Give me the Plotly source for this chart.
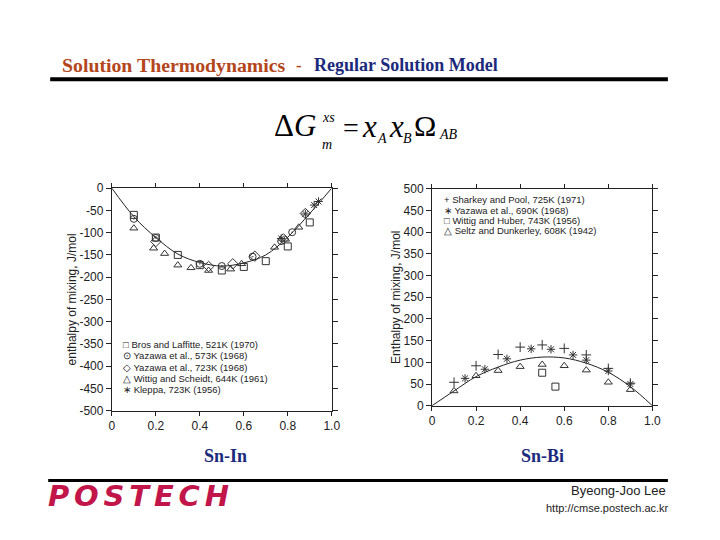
import plotly.graph_objects as go

W, H = 720, 540

# ---------------- data: Sn-In (left) ----------------
bros_x = [0.1, 0.2, 0.3, 0.4, 0.5, 0.6, 0.7, 0.8, 0.9]
bros_y = [-60, -111, -150, -173, -185, -177, -164, -131, -77]
yaz573_x = [0.1, 0.2, 0.4, 0.5, 0.64, 0.77, 0.82]
yaz573_y = [-69, -112, -170, -175, -154, -119, -99]
yaz723_x = [0.2, 0.44, 0.55, 0.65, 0.78, 0.88]
yaz723_y = [-120, -176, -170, -153, -114, -57]
witt_x = [0.1, 0.19, 0.24, 0.3, 0.36, 0.44, 0.54, 0.59, 0.74, 0.79, 0.85]
witt_y = [-90, -135, -147, -173, -179, -185, -182, -170, -133, -115, -88]
klep_x = [0.77, 0.88, 0.92, 0.94]
klep_y = [-113, -58, -38, -30]
snin_curve_x = [0, 0.1, 0.2, 0.3, 0.4, 0.5, 0.6, 0.7, 0.8, 0.9, 1.0]
snin_curve_y = [0, -64, -111, -148, -167, -175, -168, -150, -110, -57, 0]

# ---------------- data: Sn-Bi (right) ----------------
shar_x = [0.1, 0.2, 0.3, 0.4, 0.5, 0.6, 0.7, 0.8, 0.9]
shar_y = [54, 92, 118, 135, 140, 132, 117, 86, 52]
yazbi_x = [0.15, 0.24, 0.34, 0.45, 0.54, 0.64, 0.7, 0.8, 0.9]
yazbi_y = [63, 84, 108, 131, 130, 117, 105, 80, 50]
wittbi_x = [0.5, 0.56]
wittbi_y = [76, 44]
seltz_x = [0.1, 0.2, 0.3, 0.4, 0.5, 0.6, 0.7, 0.8, 0.9]
seltz_y = [34, 69, 81, 90, 95, 92, 82, 54, 37]
snbi_curve_x = [0, 0.1, 0.2, 0.3, 0.4, 0.5, 0.6, 0.7, 0.8, 0.9, 1.0]
snbi_curve_y = [0, 34, 67, 89, 105, 112, 110, 98, 77, 44, 0]

x_ticks = [0, 0.2, 0.4, 0.6, 0.8, 1.0]
x_ticktext = ["0", "0.2", "0.4", "0.6", "0.8", "1.0"]
left_yticks = list(range(0, -501, -50))
left_yticktext = [str(v) for v in left_yticks]
right_yticks = list(range(0, 501, 50))
right_yticktext = [str(v) for v in right_yticks]

left_legend = [
    ("\u25a1", "Bros and Laffitte, 521K (1970)"),
    ("\u2299", "Yazawa et al., 573K (1968)"),
    ("\u25c7", "Yazawa et al., 723K (1968)"),
    ("\u25b3", "Wittig and Scheidt, 644K (1961)"),
    ("\u2217", "Kleppa, 723K (1956)"),
]
right_legend = [
    ("+", "Sharkey and Pool, 725K (1971)"),
    ("\u2217", "Yazawa et al., 690K (1968)"),
    ("\u25a1", "Wittig and Huber, 743K (1956)"),
    ("\u25b3", "Seltz and Dunkerley, 608K (1942)"),
]

# layout helpers: reference pixel -> paper fraction (with viewer calibration)
AX, BX = 2.8, 0.9838
AY, BY = 5.5, 0.976


def px(x):
    return (x - AX) / (BX * W)


def py(y):
    return 1 - (y - AY) / (BY * H)


MK = "#333333"
fig = go.Figure()


def pts(x, y, sym, size, ax):
    fig.add_trace(go.Scatter(
        x=x, y=y, mode="markers", xaxis=ax[0], yaxis=ax[1], showlegend=False,
        marker=dict(symbol=sym, size=size, color=MK, line=dict(color=MK, width=1)),
        hoverinfo="skip"))


L = ("x", "y")
R = ("x2", "y2")
fig.add_trace(go.Scatter(x=snin_curve_x, y=snin_curve_y, mode="lines", line=dict(color="#222", width=1, shape="spline", smoothing=1.0), showlegend=False, hoverinfo="skip"))
pts(bros_x, bros_y, "square-open", 7, L)
pts(yaz573_x, yaz573_y, "circle-open-dot", 7, L)
pts(yaz723_x, yaz723_y, "diamond-open", 8, L)
pts(witt_x, witt_y, "triangle-up-open", 7, L)
pts(klep_x, klep_y, "asterisk-open", 7, L)

fig.add_trace(go.Scatter(x=snbi_curve_x, y=snbi_curve_y, mode="lines", xaxis="x2", yaxis="y2", line=dict(color="#222", width=1, shape="spline", smoothing=1.0), showlegend=False, hoverinfo="skip"))
pts(shar_x, shar_y, "cross-thin-open", 7, R)
pts(yazbi_x, yazbi_y, "asterisk-open", 7, R)
pts(wittbi_x, wittbi_y, "square-open", 7, R)
pts(seltz_x, seltz_y, "triangle-up-open", 7, R)

axis_font = dict(family="Liberation Sans, Arial", size=12, color="#222")
common = dict(showline=True, linecolor="#222", linewidth=1, mirror="ticks",
              ticks="outside", tickcolor="#222", tickwidth=1,
              showgrid=False, zeroline=False, tickfont=axis_font)

fig.update_layout(
    width=W, height=H, margin=dict(l=0, r=0, t=0, b=0),
    paper_bgcolor="white", plot_bgcolor="white", showlegend=False,
    xaxis=dict(domain=[px(111.7), px(331.7)], range=[0, 1], tickvals=x_ticks, ticktext=x_ticktext, anchor="y", ticklen=4, **common),
    yaxis=dict(domain=[py(410), py(187)], range=[-500, 0], tickvals=left_yticks, ticktext=left_yticktext, anchor="x", ticklen=5,
               title=dict(text="enthalpy of mixing, J/mol", font=axis_font, standoff=0), **common),
    xaxis2=dict(domain=[px(432), px(652.5)], range=[0, 1], tickvals=x_ticks, ticktext=x_ticktext, anchor="y2", ticklen=4, **common),
    yaxis2=dict(domain=[py(405), py(187.5)], range=[0, 500], tickvals=right_yticks, ticktext=right_yticktext, anchor="x2", ticklen=5,
                title=dict(text="Enthalpy of mixing, J/mol", font=axis_font, standoff=0), **common),
)

ann = []


def text(t, x, y, size, color="#000", family="Liberation Serif, Times New Roman", xanchor="left", yanchor="middle"):
    ann.append(dict(text=t, x=px(x), y=py(y), xref="paper", yref="paper", showarrow=False,
                    xanchor=xanchor, yanchor=yanchor, font=dict(size=size, color=color, family=family)))


# header
RUST = "#b4461c"
BLUE = "#1b2a7c"
text("<b>Solution Thermodynamics</b>", 60, 64, 19.8, RUST)
text("<b>-</b>", 294, 64, 17, RUST)
text("<b>Regular Solution Model</b>", 312, 64, 18, BLUE)

# formula
text("\u0394<i>G</i>", 272, 124, 31)
text("<i>xs</i>", 320, 116, 14)
text("<i>m</i>", 320, 143, 14)
text("=", 341, 126, 28)
text("<i>x</i>", 360, 125, 31)
text("<i>A</i>", 375, 137, 14)
text("<i>x</i>", 387, 125, 31)
text("<i>B</i>", 401, 137, 14)
text("\u03a9", 412, 124, 30)
text("<i>AB</i>", 437, 133, 14)

# legends (inset, as text rows)
for i, (sym, lab) in enumerate(left_legend):
    text(sym + " " + lab, 121, [344, 355, 366.5, 377.5, 388.5][i], 9.5, "#222", "Liberation Sans, Arial")
for i, (sym, lab) in enumerate(right_legend):
    text(sym + " " + lab, 442, [198.5, 209, 219, 229][i], 9.5, "#222", "Liberation Sans, Arial")

# subplot names
text("<b>Sn-In</b>", 225, 455, 18, BLUE, xanchor="center")
text("<b>Sn-Bi</b>", 543, 455, 18, BLUE, xanchor="center")

# footer
text("<b><i>P\u2006O\u2006S\u2006T\u2006E\u2006C\u2006H</i></b>", 46, 495, 29, "#c2154a", family="DejaVu Sans")
text("Byeong-Joo Lee", 668, 490, 13, "#222", "Liberation Sans, Arial", xanchor="right")
text("http://cmse.postech.ac.kr", 671, 507, 11, "#222", "Liberation Sans, Arial", xanchor="right")

fig.update_layout(annotations=ann)

shapes = [
    dict(type="line", xref="paper", yref="paper", x0=px(50), x1=px(668), y0=py(78), y1=py(78), line=dict(color="#000", width=4)),
    dict(type="line", xref="paper", yref="paper", x0=px(48), x1=px(668), y0=py(480), y1=py(480), line=dict(color="#000", width=3)),
]
fig.update_layout(shapes=shapes)

fig.write_html("out.html", config={"displayModeBar": False},
               post_script="document.body.style.margin='0';document.body.style.overflow='hidden';")
